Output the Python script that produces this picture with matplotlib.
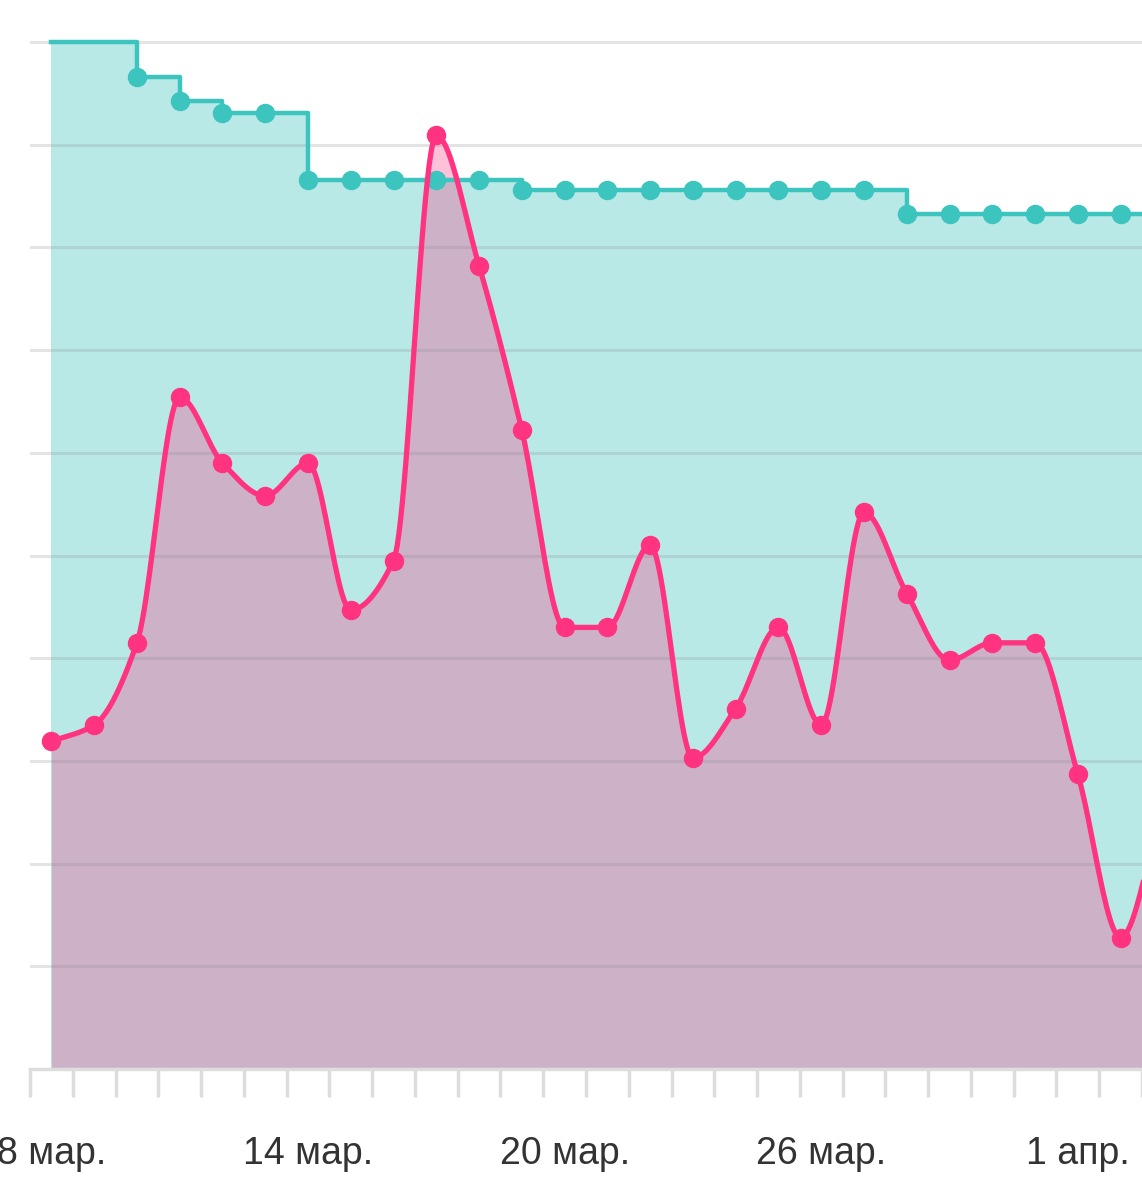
import numpy as np
import matplotlib
matplotlib.use('Agg')
from matplotlib import pyplot as plt

# day index 0 = 8 мар.
tick_labels = ['8 мар.', '14 мар.', '20 мар.', '26 мар.', '1 апр.']
tick_days = [0, 6, 12, 18, 24]

teal_values = [10, 10, 9.66, 9.43, 9.31, 9.31, 8.66, 8.66, 8.66, 8.66, 8.66,
               8.56, 8.56, 8.56, 8.56, 8.56, 8.56, 8.56, 8.56, 8.56,
               8.33, 8.33, 8.33, 8.33, 8.33, 8.33]
pink_values = [3.19, 3.35, 4.15, 6.54, 5.90, 5.58, 5.90, 4.47, 4.95, 9.09,
               7.82, 6.22, 4.30, 4.30, 5.10, 3.03, 3.51, 4.30, 3.35, 5.42,
               4.63, 3.98, 4.15, 4.15, 2.87, 1.28, 2.6]

TEAL = '#3cc4be'
PINK = '#ff3380'

def monotone(x, y, n = 24):
    # Fritsch-Carlson monotone cubic, like d3 curveMonotoneX
    x = np.asarray(x, float); y = np.asarray(y, float)
    h = np.diff(x); d = np.diff(y) / h
    m = np.zeros_like(y)
    m[0], m[-1] = d[0], d[-1]
    for i in range(1, len(y) - 1):
        if d[i - 1] * d[i] <= 0:
            m[i] = 0
        else:
            m[i] = 3 * (h[i - 1] + h[i]) / ((2 * h[i] + h[i - 1]) / d[i - 1] + (h[i] + 2 * h[i - 1]) / d[i])
    xs, ys = [], []
    t = np.linspace(0, 1, n, endpoint = False)
    for i in range(len(h)):
        h00 = 2 * t ** 3 - 3 * t ** 2 + 1
        h10 = t ** 3 - 2 * t ** 2 + t
        h01 = -2 * t ** 3 + 3 * t ** 2
        h11 = t ** 3 - t ** 2
        xs.append(x[i] + t * h[i])
        ys.append(h00 * y[i] + h10 * h[i] * m[i] + h01 * y[i + 1] + h11 * h[i] * m[i + 1])
    xs.append([x[-1]]); ys.append([y[-1]])
    return np.concatenate(xs), np.concatenate(ys)

fig = plt.figure(figsize = (11.42, 12), dpi = 100)
ax = fig.add_axes([30 / 1142, 131 / 1200, 1 - 30 / 1142, 1039 / 1200])

tx = np.arange(len(teal_values))
txe = np.append(tx, tx[-1] + 1)
tye = np.append(teal_values, teal_values[-1])
ax.fill_between(txe, tye, step = 'post', color = TEAL, alpha = 0.36, lw = 0, zorder = 1)
ax.step(txe, tye, where = 'post', color = TEAL, lw = 3.2, zorder = 4)
ax.plot(tx[2:], teal_values[2:], 'o', color = TEAL, ms = 13, zorder = 5)

px = np.arange(len(pink_values))
sx, sy = monotone(px, pink_values)
ax.fill_between(sx, sy, color = PINK, alpha = 0.3, lw = 0, zorder = 2)
ax.plot(sx, sy, color = PINK, lw = 3.8, zorder = 6)
ax.plot(px, pink_values, 'o', color = PINK, ms = 13, zorder = 7)

for v in range(1, 11):
    ax.axhline(v, color = '#888888', alpha = 0.22, lw = 2.2, zorder = 3)

ax.set_xlim(-0.5, 25.28)
ax.set_ylim(0, 10.117)
ax.set_yticks([])
for s in ['top', 'right', 'left']:
    ax.spines[s].set_visible(False)
ax.spines['bottom'].set_color('#dddddd')
ax.spines['bottom'].set_linewidth(2.5)
ax.set_xticks(np.arange(-0.5, 26, 1), minor = True)
ax.set_xticks(tick_days)
ax.set_xticklabels(tick_labels, fontsize = 27, color = '#333333', family = ['Liberation Sans', 'DejaVu Sans'])
ax.tick_params(axis = 'x', which = 'major', length = 0, pad = 48)
ax.tick_params(axis = 'x', which = 'minor', length = 20, width = 2.5, color = '#dddddd')

fig.savefig('out.png', dpi = 100)
